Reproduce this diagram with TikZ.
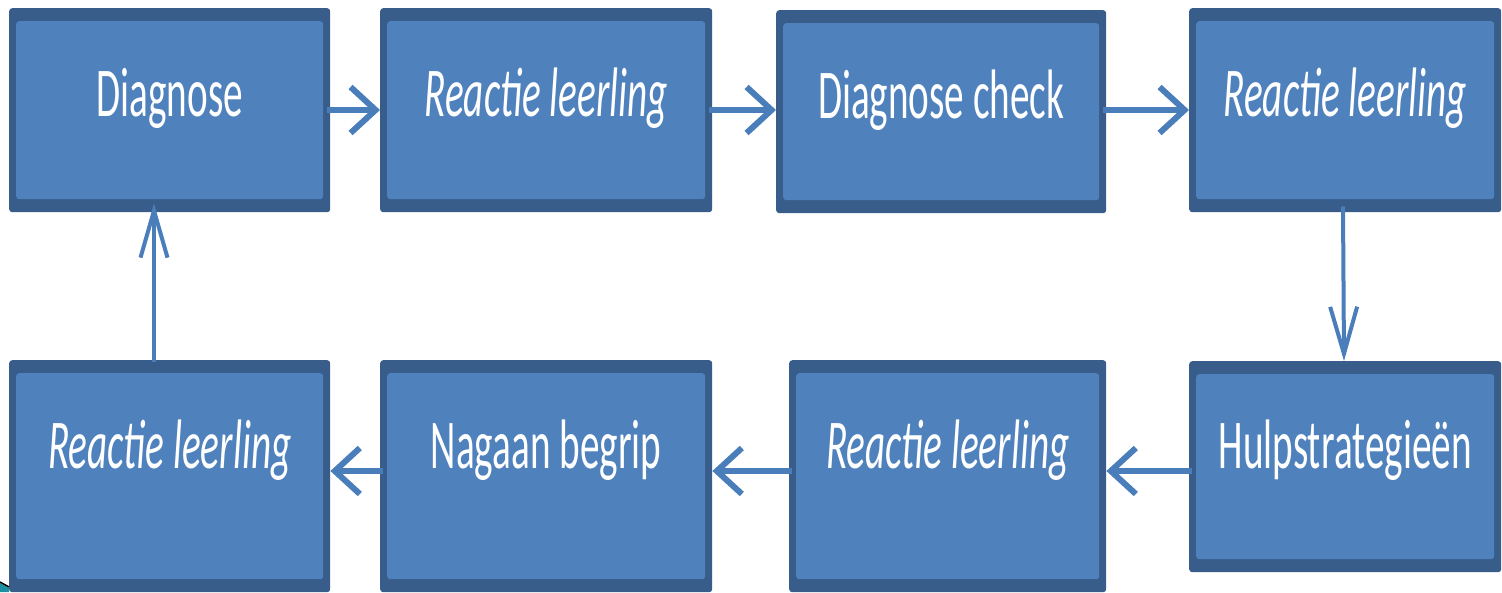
\documentclass[tikz,border=0pt]{standalone}
\usepackage{fontspec}
\usetikzlibrary{arrows.meta}
\newfontfamily\stagefont[FakeStretch=0.56]{Carlito}
\definecolor{stagefill}{HTML}{4F81BD}
\definecolor{stageedge}{HTML}{385D8A}
\definecolor{flowblue}{HTML}{4A7EBB}
\definecolor{cornerteal}{HTML}{1C8FA0}
\tikzset{
  stage/.style={fill=stageedge, rounded corners=3pt, inner sep=0pt, anchor=north west,
    text=white, font=\stagefont\fontsize{70}{84}\selectfont, text height=108pt,
    path picture={\fill[stagefill] ([xshift=7pt,yshift=13pt]path picture bounding box.south west)
      rectangle ([xshift=-7pt,yshift=-13pt]path picture bounding box.north east);}},
  flowh/.style={flowblue, line width=6pt, -{Straight Barb[length=25pt,width=46pt]}},
  flowv/.style={flowblue, line width=4pt, -{Straight Barb[length=47pt,width=27pt]}}
}
\begin{document}
\begin{tikzpicture}[x=1pt, y=-1pt]
\useasboundingbox (0,0) rectangle (1502,592);
% top row
\node[stage, minimum width=321pt, text depth=96pt] (diag) at (9,8) {Diagnose};
\node[stage, minimum width=332pt, text depth=96pt] (reac1) at (380,8) {\itshape Reactie leerling};
\node[stage, minimum width=330pt, text depth=95pt] (check) at (776,10) {Diagnose check};
\node[stage, minimum width=312pt, text depth=96pt] (reac2) at (1189,8) {\itshape Reactie leerling};
% bottom row
\node[stage, minimum width=321pt, text depth=124pt] (reac4) at (9,360) {\itshape Reactie leerling};
\node[stage, minimum width=332pt, text depth=124pt] (begrip) at (380,360) {Nagaan begrip};
\node[stage, minimum width=317pt, text depth=124pt] (reac3) at (789,360) {\itshape Reactie leerling};
\node[stage, minimum width=312pt, text depth=104pt, text height=107pt] (hulp) at (1189,361) {Hulpstrategie\"en};
% arrows
\draw[flowh] ([xshift=-3pt]diag.east |- 0,110) -- (reac1.west |- 0,110);
\draw[flowh] ([xshift=-3pt]reac1.east |- 0,110) -- (check.west |- 0,110);
\draw[flowh] ([xshift=-3pt]check.east |- 0,110) -- (reac2.west |- 0,110);
\draw[flowv] ([yshift=6pt]reac2.south -| 1343,0) -- (hulp.north -| 1344,0);
\draw[flowh] ([xshift=3pt]hulp.west |- 0,471) -- (reac3.east |- 0,471);
\draw[flowh] ([xshift=3pt]reac3.west |- 0,471) -- (begrip.east |- 0,471);
\draw[flowh] ([xshift=3pt]begrip.west |- 0,471) -- (reac4.east |- 0,471);
\draw[flowv] ([yshift=-2pt]reac4.north -| 154,0) -- ([yshift=9pt]diag.south -| 154,0);
% cut-off corner
\fill[cornerteal] (0,583) -- (9,588) -- (9,592) -- (0,592) -- cycle;
\draw[black, line width=1.5pt] (0,582) -- (9,587);
\end{tikzpicture}
\end{document}
